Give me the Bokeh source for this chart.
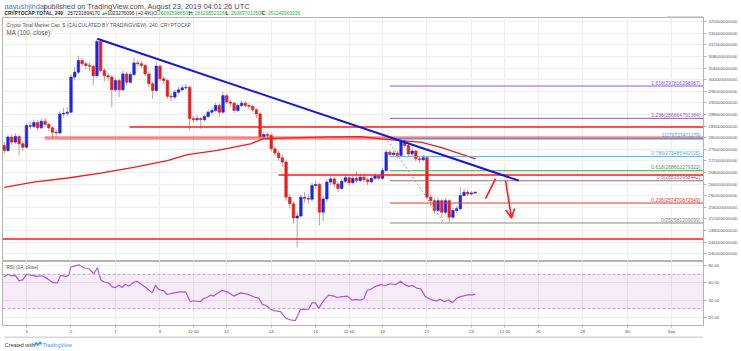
from bokeh.plotting import figure
from bokeh.layouts import column
from bokeh.models import (Range1d, FixedTicker, NumeralTickFormatter, Label, Arrow,
                          OpenHead, ColumnDataSource, BoxAnnotation, Span)
from bokeh.core.properties import value
from bokeh.embed import file_html
from bokeh.resources import INLINE

FONT = "Liberation Sans"
B = 1e9

# ---------------- data (prices in billions USD, x = 4h candle index from Aug 2 00:00) -------------
first_open = 277.3
closes = [275.6, 280.2, 278.5, 280.4, 277.9, 276.7, 284.2, 283.9, 285.2, 283.4,
          285.7, 284.6, 283.4, 281.9, 281.6, 288.2, 288.4, 288.8, 300.9, 302.6,
          306.6, 305.5, 304.9, 304.6, 301.4, 313.2, 303.2, 301.4, 300.9, 296.5,
          299.7, 296.5, 302.0, 299.1, 301.8, 305.8, 305.5, 304.9, 302.0, 298.6,
          296.3, 304.7, 300.3, 299.7, 294.3, 294.0, 295.7, 296.5, 297.2, 297.4,
          286.6, 286.2, 286.6, 286.2, 287.3, 288.8, 289.4, 291.1, 288.8, 294.5,
          292.3, 291.9, 289.4, 291.1, 291.9, 291.1, 290.8, 289.6, 288.2, 280.4,
          281.1, 280.8, 276.2, 274.7, 273.1, 271.6, 259.5, 257.2, 252.3, 253.0,
          259.5, 259.0, 258.8, 263.5, 263.9, 254.3, 258.9, 264.7, 265.8, 264.0,
          262.5, 265.0, 266.2, 264.5, 266.0, 265.2, 266.4, 265.5, 264.8, 266.0,
          266.8, 266.0, 268.7, 275.0, 274.2, 274.7, 273.9, 278.8, 277.3, 274.4,
          275.4, 272.7, 272.4, 273.1, 259.5, 258.3, 254.9, 258.3, 254.3, 258.3,
          252.6, 254.9, 255.5, 260.1, 261.2, 260.6, 260.926, 261.242]
highs = [278.4, 281.0, 281.2, 281.6, 281.0, 278.8, 285.0, 285.6, 286.4, 286.0,
         286.6, 286.8, 285.2, 284.0, 282.8, 289.2, 290.2, 290.6, 301.8, 304.5,
         308.3, 307.4, 306.3, 306.0, 305.2, 314.2, 313.6, 304.0, 302.4, 301.6,
         300.6, 300.4, 303.2, 302.8, 302.6, 307.6, 306.6, 306.4, 305.4, 302.6,
         299.2, 306.0, 305.2, 301.2, 300.4, 295.4, 296.6, 297.6, 298.2, 298.6,
         298.0, 287.4, 287.8, 287.2, 288.0, 289.6, 290.4, 292.0, 291.8, 295.7,
         295.0, 293.2, 292.4, 291.8, 292.8, 292.6, 291.8, 291.4, 290.2, 288.8,
         282.0, 281.8, 281.4, 277.0, 275.6, 274.2, 272.4, 260.6, 258.0, 254.2,
         260.4, 261.2, 260.6, 264.6, 265.2, 264.4, 259.8, 265.6, 267.0, 266.4,
         264.8, 265.8, 267.6, 266.8, 267.0, 268.2, 267.4, 267.2, 266.2, 266.8,
         267.8, 267.4, 269.6, 275.8, 275.8, 275.6, 275.4, 279.73, 279.2, 277.8,
         276.4, 275.8, 273.4, 274.0, 273.6, 260.4, 259.0, 259.4, 259.0, 259.2,
         258.8, 255.8, 256.4, 263.0, 262.4, 262.0, 261.6, 261.296]
lows = [274.5, 275.0, 277.6, 277.8, 273.9, 275.4, 276.2, 283.0, 283.2, 282.6,
        283.0, 283.8, 282.4, 280.2, 280.4, 281.2, 286.9, 287.6, 288.4, 299.8,
        302.0, 304.6, 303.6, 303.0, 298.0, 300.6, 302.4, 299.4, 299.6, 290.5,
        295.8, 294.0, 296.0, 298.0, 298.6, 301.2, 304.6, 304.0, 301.2, 297.4,
        293.4, 295.8, 299.4, 298.4, 293.4, 292.6, 293.4, 295.0, 296.0, 296.4,
        282.5, 285.0, 285.4, 283.0, 285.6, 286.8, 288.0, 288.8, 287.2, 288.2,
        291.6, 290.6, 288.4, 288.8, 290.4, 290.4, 289.8, 288.8, 286.8, 279.0,
        279.6, 279.4, 275.2, 273.6, 272.0, 270.0, 258.2, 255.6, 250.4, 242.2,
        252.4, 257.6, 257.2, 258.0, 262.4, 249.7, 251.2, 258.0, 263.6, 262.8,
        261.2, 262.0, 264.4, 263.4, 263.8, 264.4, 264.6, 264.6, 263.6, 264.2,
        265.4, 265.2, 265.4, 268.2, 273.4, 273.6, 273.0, 273.4, 276.6, 273.6,
        273.8, 271.8, 271.4, 271.8, 258.6, 256.4, 253.8, 254.2, 252.6, 253.6,
        250.58, 251.8, 254.0, 255.0, 259.6, 259.8, 260.0, 260.837]

ma_idx = [0, 7.9, 17.1, 26.0, 34.9, 44.0, 49.4, 57.5, 66.4, 69.9, 79.9, 88.0,
          96.1, 101.5, 106.9, 112.3, 117.7, 122.2, 127.1]
ma_val = [262.9, 264.7, 266.1, 267.8, 269.8, 272.1, 274.2, 275.6, 277.9, 279.6, 280.0,
          280.3, 280.4, 279.6, 279.0, 278.5, 276.7, 274.8, 272.7]

rsi_idx = [0, 1, 2, 3, 4, 5, 6, 7.5, 8.9, 10.2, 11.6, 13.2, 14.3, 15.2, 16.5, 17.4, 17.9,
           20.1, 21.5, 22.8, 24.2, 25.1, 26.0, 26.9, 28.2, 29.1, 30.0, 30.9, 31.8, 32.7,
           33.6, 35.0, 35.8, 36.7, 38.5, 39.9, 40.8, 41.7, 43.0, 43.9, 45.7, 47.5, 48.9,
           50.2, 51.1, 52.9, 53.8, 54.7, 55.6, 56.5, 57.4, 58.8, 60.1, 61.9, 63.7, 65.5,
           67.3, 68.7, 69.6, 70.9, 71.8, 72.7, 74.5, 75.9, 77.2, 78.5, 79.9, 81.2, 82.1,
           83.0, 83.9, 84.8, 86.2, 87.5, 88.9, 89.8, 90.7, 92.5, 93.8, 94.7, 96.1, 97.0,
           97.9, 98.8, 100.1, 101.5, 102.8, 104.2, 105.5, 106.9, 108, 109, 110.1, 111.2,
           112.3, 113.6, 114.4, 115.5, 116.6, 117.6, 118.7, 119.8, 120.9, 122, 123, 124.1,
           125.2, 126.3, 127]
rsi_val = [67.6, 70.0, 68.4, 68.8, 62.3, 63.8, 70.0, 68.8, 67.6, 68.4, 65.0, 60.3, 59.9,
           68.8, 67.6, 68.8, 78.4, 81.1, 77.7, 76.5, 70.7, 77.7, 63.8, 61.1, 59.9, 55.3,
           54.6, 57.3, 54.6, 58.4, 56.1, 61.1, 61.9, 59.2, 53.4, 48.4, 57.3, 52.3, 50.7,
           46.5, 48.4, 49.6, 49.6, 38.0, 39.2, 38.0, 41.9, 43.0, 45.7, 44.6, 47.6, 51.5,
           49.6, 44.6, 48.4, 46.9, 43.8, 41.9, 35.0, 33.0, 29.2, 27.6, 26.5, 18.8, 16.8,
           16.1, 29.2, 29.2, 29.2, 36.8, 36.8, 30.3, 39.9, 45.7, 44.6, 43.0, 43.8, 44.6,
           39.9, 40.7, 39.9, 41.9, 51.5, 52.3, 56, 58, 57, 59, 58, 62, 58, 56, 57, 54, 53,
           44, 42, 40, 39, 41, 38, 40, 37, 42, 44, 45, 46, 46, 47]

time_tick_idx = [6, 18, 30, 42, 51, 60, 72, 84, 93, 102, 114, 126, 135, 144, 156, 168, 180]
time_tick_lbl = ["3", "5", "7", "9", "12:00", "12", "14", "16", "12:00", "19", "21", "23",
                 "12:00", "26", "28", "30", "Sep"]
price_ticks = [240, 244, 248, 252, 256, 260, 264, 268, 272, 276, 280, 284, 288, 292,
               296, 300, 304, 308, 312, 316, 320]
rsi_ticks = [20, 40, 60, 80]

# horizontal support / resistance rays
hl_start = [33.8, 10.9, 74.0, -0.5]
hl_price = [283.717089498, 279.913096447, 267.102691401, 245.058707142]
hl_width = [1.5, 3.5, 1.5, 1.5]
hl_alpha = [1.0, 0.5, 1.0, 1.0]

# fibonacci retracement
fib_start = 104
fib_level = ["0", "0.236", "0.5", "0.618", "0.786", "1", "1.236", "1.618"]
fib_value = [250581209099, 257470872649, 265153958442, 268602279322, 273485442025,
             279727471179, 286664791384, 297816298957]
fib_color = ["#8a8a8a", "#e53935", "#8a6f80", "#43a047", "#4fb3f0", "#29a8ee",
             "#a24fc4", "#8e5bd0"]

trend_idx, trend_price = [25.1, 138.8], [314.1, 265.2]
fibtrend_idx, fibtrend_price = [103.4, 118.5], [279.0, 250.8]
up_idx, up_price = [129.8, 132.5], [259.0, 265.9]
down_idx, down_price = [135.2, 136.8], [265.2, 252.3]
last_price = 261.242063336

# ---------------- text width helper (Arial / Liberation Sans metrics) ----------------
AW = {' ': 278, '%': 889, '(': 333, ')': 333, '+': 584, ',': 278, '-': 333, '.': 278,
      ':': 278, '$': 556, '▲': 770,
      'A': 667, 'B': 667, 'C': 722, 'D': 722, 'E': 667, 'F': 611, 'G': 778, 'H': 722,
      'I': 278, 'J': 500, 'K': 667, 'L': 556, 'M': 833, 'N': 722, 'O': 778, 'P': 667,
      'Q': 778, 'R': 722, 'S': 667, 'T': 611, 'U': 722, 'V': 667, 'W': 944, 'X': 667,
      'Y': 667, 'Z': 611,
      'a': 556, 'b': 556, 'c': 500, 'd': 556, 'e': 556, 'f': 278, 'g': 556, 'h': 556,
      'i': 222, 'j': 222, 'k': 500, 'l': 222, 'm': 833, 'n': 556, 'o': 556, 'p': 556,
      'q': 556, 'r': 333, 's': 500, 't': 278, 'u': 556, 'v': 500, 'w': 722, 'x': 500,
      'y': 500, 'z': 500}
for d in "0123456789":
    AW[d] = 556


def em(s, bold=False):
    w = sum(AW.get(ch, 556) for ch in s) / 1000.0
    return w * 1.14 if bold else w


W = 741

# ---------------- header ----------------
header = figure(width=W, height=17, x_range=Range1d(0, W), y_range=Range1d(17, 0),
                x_axis_location=None, y_axis_location=None, output_backend="svg",
                toolbar_location=None, min_border=0)
header.outline_line_color = None
header.grid.visible = False

l1 = [("aayushjindal", "#2a8bd6"),
      (" published on TradingView.com, August 23, 2019 04:01:26 UTC", "#4a4a4a")]
fs1 = 251 / sum(em(t) for t, _ in l1)
xc = 2.0
for t, col in l1:
    header.text(x=[xc], y=[5.5], text=[t], text_font=value(FONT), text_font_size=f"{fs1:.2f}px",
                text_color=col, text_baseline="middle", text_align="left")
    xc += em(t) * fs1

GREEN = "#2fae3a"
DARK = "#222222"
l2 = [("CRYPTOCAP:TOTAL, 240", DARK, True), (" 257231894170 ", DARK, False),
      ("▲", GREEN, False), (" +1023276096 (+0.4%) ", DARK, False),
      ("O:", DARK, False), ("260925988505", GREEN, False),
      (" H:", DARK, False), ("261295523266", GREEN, False),
      (" L:", DARK, False), ("260837012509", GREEN, False),
      (" C:", DARK, False), ("261242063336", GREEN, False)]
fs2 = 311 / sum(em(t, b) for t, _, b in l2)
xc = 2.0
for t, col, b in l2:
    header.text(x=[xc], y=[12.6], text=[t], text_font=value(FONT), text_font_size=f"{fs2:.2f}px",
                text_color=col, text_baseline="middle", text_align="left",
                text_font_style="bold" if b else "normal")
    xc += em(t, b) * fs2
header.segment(x0=[703], y0=[16.5], x1=[740], y1=[16.5], line_color="#b0b0b0", line_width=1)

# ---------------- main price pane ----------------
X0, X1 = -0.472, 188.58
YB, YT = 237.31, 321.45
FL, FR, FT, FH = 2, 703, 17, 244


def px2x(px):
    return X0 + (px - FL) / (FR - FL) * (X1 - X0)


def py2y(py):
    return (YT - (py - FT) / FH * (YT - YB)) * B


xr = Range1d(X0, X1)
main = figure(width=W, height=244, x_range=xr, y_range=Range1d(YB * B, YT * B),
              x_axis_location=None, y_axis_location="right", output_backend="svg",
              toolbar_location=None, min_border_left=2, min_border_right=38,
              min_border_top=0, min_border_bottom=0)
main.outline_line_color = "#b4b4b4"
main.background_fill_color = "white"
main.yaxis.ticker = FixedTicker(ticks=[v * B for v in price_ticks])
main.yaxis.formatter = NumeralTickFormatter(format="0")
main.yaxis.major_label_text_font = FONT
main.yaxis.major_label_text_font_size = "4.3px"
main.yaxis.major_label_text_color = "#555555"
main.yaxis.major_tick_out = 3
main.yaxis.major_tick_in = 0
main.yaxis.minor_tick_line_color = None
main.yaxis.axis_line_color = "#b4b4b4"
main.yaxis.major_tick_line_color = "#b4b4b4"
main.yaxis.major_label_standoff = 2
main.xgrid.ticker = FixedTicker(ticks=time_tick_idx)
main.grid.grid_line_color = "#eeeeee"

opens = [first_open] + closes[:-1]
n = len(closes)
UP, DN = "#1f24e4", "#e3201e"
src = ColumnDataSource(dict(
    x=list(range(n)),
    top=[max(o, c) * B for o, c in zip(opens, closes)],
    bot=[min(o, c) * B for o, c in zip(opens, closes)],
    hi=[h * B for h in highs], lo=[l * B for l in lows],
    color=[UP if c >= o else DN for o, c in zip(opens, closes)]))
main.segment(x0="x", y0="lo", x1="x", y1="hi", source=src, line_color="#a8a8a8", line_width=1)
main.vbar(x="x", width=0.68, top="top", bottom="bot", source=src, fill_color="color",
          line_color="color", line_width=0.6)

# MA 100
main.line(ma_idx, [v * B for v in ma_val], line_color="#e81f1f", line_width=1.3)

# horizontal rays
for s, pr, w, a in zip(hl_start, hl_price, hl_width, hl_alpha):
    main.segment(x0=[s], y0=[pr * B], x1=[X1 + 5], y1=[pr * B], line_color="#ff1a1a",
                 line_width=w, line_alpha=a)

# fibonacci
for lvl, v, col in zip(fib_level, fib_value, fib_color):
    main.segment(x0=[fib_start], y0=[v], x1=[X1 + 5], y1=[v], line_color=col, line_width=1)
    main.text(x=[px2x(700)], y=[v], text=[f"{lvl}({v})"], text_font=value(FONT),
              text_font_size="5px", text_color=col, text_align="right",
              text_baseline="bottom", y_offset=-0.5)
main.line(fibtrend_idx, [v * B for v in fibtrend_price], line_color="#a0a0a0",
          line_dash="2 2", line_width=1)

# blue trend line
main.line(trend_idx, [v * B for v in trend_price], line_color="#1414dc", line_width=2)

# red arrows
main.line(up_idx, [v * B for v in up_price], line_color="#ff1a1a", line_width=1.6)
main.add_layout(Arrow(end=OpenHead(size=9, line_color="#ff1a1a", line_width=1.6),
                      x_start=down_idx[0], y_start=down_price[0] * B,
                      x_end=down_idx[1], y_end=down_price[1] * B,
                      line_color="#ff1a1a", line_width=1.6))

# pane titles
t1 = "Crypto Total Market Cap, $ (CALCULATED BY TRADINGVIEW), 240, CRYPTOCAP"
t2 = "MA (100, close)"
main.text(x=[px2x(6)], y=[py2y(25)], text=[t1], text_font=value(FONT),
          text_font_size=f"{186 / em(t1):.2f}px", text_color="#555555", text_baseline="middle")
main.text(x=[px2x(6)], y=[py2y(32.3)], text=[t2], text_font=value(FONT),
          text_font_size=f"{44 / em(t2):.2f}px", text_color="#555555", text_baseline="middle")

# price labels on the axis
for pr in hl_price:
    main.add_layout(Label(x=px2x(703.5), y=pr * B, text=f" {int(round(pr * B))} ",
                          text_font=FONT, text_font_size="4.3px", text_color="white",
                          background_fill_color="#ff1a1a", text_baseline="middle",
                          text_align="left"))
main.add_layout(Label(x=px2x(703.5), y=last_price * B, text=f" {int(round(last_price * B))} ",
                      text_font=FONT, text_font_size="4.3px", text_color="white",
                      background_fill_color="#1a1aff", text_baseline="middle", text_align="left"))
main.add_layout(Label(x=px2x(716), y=py2y(200), text=" 03:58:48 ", text_font=FONT,
                      text_font_size="4.3px", text_color="white", background_fill_color="#1a1aff",
                      text_baseline="middle", text_align="left"))

# ---------------- RSI pane ----------------
RB, RT = 10.3, 85.0
rsi = figure(width=W, height=75, x_range=xr, y_range=Range1d(RB, RT),
             x_axis_location="below", y_axis_location="right", output_backend="svg",
             toolbar_location=None, min_border_left=2, min_border_right=38,
             min_border_top=0, min_border_bottom=11)
rsi.outline_line_color = "#b4b4b4"
rsi.yaxis.ticker = FixedTicker(ticks=rsi_ticks)
rsi.yaxis.formatter = NumeralTickFormatter(format="0.00")
rsi.xaxis.ticker = FixedTicker(ticks=time_tick_idx)
rsi.xaxis.major_label_overrides = dict(zip(time_tick_idx, time_tick_lbl))
for ax in (rsi.yaxis, rsi.xaxis):
    ax.major_label_text_font = FONT
    ax.major_label_text_font_size = "4.3px"
    ax.major_label_text_color = "#555555"
    ax.major_tick_in = 0
    ax.minor_tick_line_color = None
    ax.axis_line_color = "#b4b4b4"
    ax.major_tick_line_color = "#b4b4b4"
rsi.yaxis.major_tick_out = 3
rsi.yaxis.major_label_standoff = 2
rsi.xaxis.major_tick_out = 2
rsi.xaxis.major_label_standoff = 1
rsi.grid.grid_line_color = "#eeeeee"
rsi.add_layout(BoxAnnotation(bottom=30, top=70, fill_color="#9c27b0", fill_alpha=0.09,
                             line_color=None))
for lv in (30, 70):
    rsi.add_layout(Span(location=lv, dimension="width", line_color="#b9a9c0",
                        line_dash="3 2", line_width=1))
rsi.line(rsi_idx, rsi_val, line_color="#b55ad6", line_width=1.2)
t3 = "RSI (14, close)"
rsi.text(x=[px2x(6)], y=[RT - (266.7 - 261) / 64 * (RT - RB)], text=[t3], text_font=value(FONT),
         text_font_size=f"{32 / em(t3):.2f}px", text_color="#555555", text_baseline="middle")

# ---------------- footer ----------------
footer = figure(width=W, height=15, x_range=Range1d(0, W), y_range=Range1d(15, 0),
                x_axis_location=None, y_axis_location=None, output_backend="svg",
                toolbar_location=None, min_border=0)
footer.outline_line_color = None
footer.grid.visible = False
footer.segment(x0=[2], y0=[0.5], x1=[740], y1=[0.5], line_color="#b0b0b0", line_width=1)
c1, c2 = "Created with", "TradingView"
footer.text(x=[2.5], y=[8], text=[c1], text_font=value(FONT),
            text_font_size=f"{30 / em(c1):.2f}px", text_color="#333333", text_baseline="middle")
footer.line([33.5, 35.5, 37.5, 39.5, 41.5], [10, 6, 9, 5.5, 8], line_color="#2a9df4",
            line_width=1.5)
footer.text(x=[42.5], y=[8], text=[c2], text_font=value(FONT),
            text_font_size=f"{29.5 / em(c2):.2f}px", text_color="#2a9df4", text_baseline="middle")

layout = column(header, main, rsi, footer, spacing=0)
open("out.html", "w").write(file_html(layout, INLINE))
